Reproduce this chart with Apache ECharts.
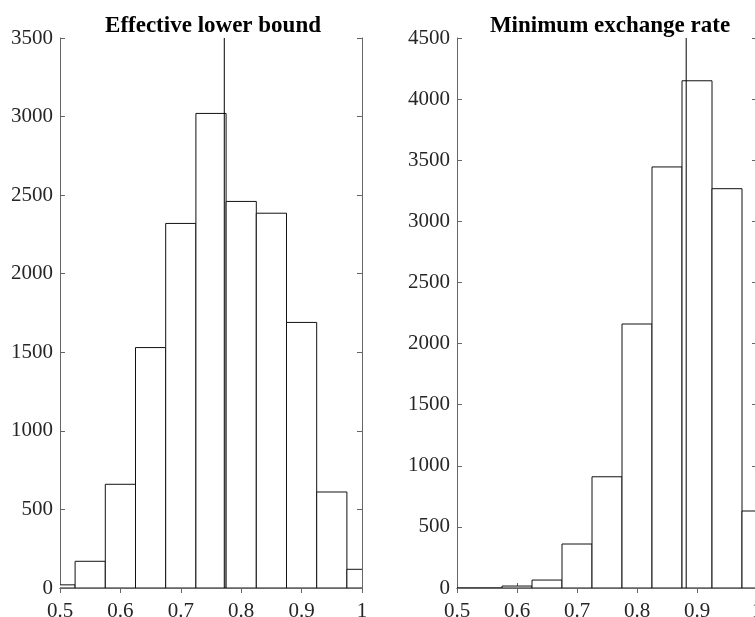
<!DOCTYPE html>
<html>
<head>
<meta charset="utf-8">
<script src="https://cdn.jsdelivr.net/npm/echarts@6/dist/echarts.min.js"></script>
<style>
html,body{margin:0;padding:0;background:#fff;}
#chart{width:755px;height:617px;}
</style>
</head>
<body>
<div id="chart"></div>
<script>
// Bin edges shared by both histograms
const binEdges = [0.475, 0.525, 0.575, 0.625, 0.675, 0.725, 0.775, 0.825, 0.875, 0.925, 0.975, 1.025];
const leftCounts = [20, 170, 660, 1530, 2320, 3020, 2460, 2385, 1690, 611, 119];
const rightCounts = [0, 0, 16, 65, 360, 910, 2160, 3445, 4150, 3267, 630];
const leftTitle = 'Effective lower bound';
const rightTitle = 'Minimum exchange rate';
const leftMarker = 0.772;
const rightMarker = 0.882;
const leftYMax = 3500;
const rightYMax = 4500;
const xTickMin = 0.5, xTickMax = 1, xTickStep = 0.1;
const yTickStep = 500;

function binsData(counts) {
  return counts.map((c, i) => [binEdges[i], binEdges[i + 1], c]);
}

function renderBar(params, api) {
  const x0 = api.value(0), x1 = api.value(1), y = api.value(2);
  const p0 = api.coord([x0, y]);
  const p1 = api.coord([x1, 0]);
  return {
    type: 'rect',
    shape: { x: p0[0], y: p0[1], width: p1[0] - p0[0], height: p1[1] - p0[1] },
    style: { fill: '#fff', stroke: '#111', lineWidth: 1 }
  };
}

const font = '"Liberation Serif", "DejaVu Serif", serif';
const axisColor = '#666';

function xAx(grid, pos, labels) {
  return {
    type: 'value', gridIndex: grid, position: pos,
    min: xTickMin, max: xTickMax, interval: xTickStep,
    axisLine: { show: true, lineStyle: { color: axisColor, width: 1 } },
    axisTick: { show: true, inside: true, length: 5, lineStyle: { color: axisColor } },
    axisLabel: { show: labels, margin: 13, color: '#262626', fontFamily: font, fontSize: 21,
      formatter: v => String(Math.round(v * 10) / 10) },
    splitLine: { show: false }
  };
}
function yAx(grid, pos, max, labels) {
  return {
    type: 'value', gridIndex: grid, position: pos,
    min: 0, max: max, interval: yTickStep,
    axisLine: { show: true, lineStyle: { color: axisColor, width: 1 } },
    axisTick: { show: true, inside: true, length: 5, lineStyle: { color: axisColor } },
    axisLabel: { show: labels, margin: 7, color: '#262626', fontFamily: font, fontSize: 21,
      formatter: v => String(v) },
    splitLine: { show: false }
  };
}

const chart = echarts.init(document.getElementById('chart'), null, { renderer: 'canvas' });
chart.setOption({
  animation: false,
  backgroundColor: '#fff',
  title: [
    { text: leftTitle, left: 208, top: 10, textAlign: 'center',
      textStyle: { fontFamily: font, fontSize: 23, fontWeight: 'bold', color: '#000' } },
    { text: rightTitle, left: 605, top: 10, textAlign: 'center',
      textStyle: { fontFamily: font, fontSize: 23, fontWeight: 'bold', color: '#000' } }
  ],
  grid: [
    { left: 60, top: 38, width: 302, height: 550, containLabel: false, outerBoundsMode: 'none' },
    { left: 457, top: 38, width: 300, height: 550, containLabel: false, outerBoundsMode: 'none' }
  ],
  xAxis: [
    xAx(0, 'bottom', true), xAx(0, 'top', false),
    xAx(1, 'bottom', true), xAx(1, 'top', false)
  ],
  yAxis: [
    yAx(0, 'left', leftYMax, true), yAx(0, 'right', leftYMax, false),
    yAx(1, 'left', rightYMax, true), yAx(1, 'right', rightYMax, false)
  ],
  series: [
    { type: 'custom', xAxisIndex: 0, yAxisIndex: 0, clip: true,
      renderItem: renderBar, data: binsData(leftCounts) },
    { type: 'line', xAxisIndex: 0, yAxisIndex: 0, symbol: 'none',
      lineStyle: { color: '#000', width: 1 },
      data: [[leftMarker, 0], [leftMarker, leftYMax]] },
    { type: 'custom', xAxisIndex: 2, yAxisIndex: 2, clip: true,
      renderItem: renderBar, data: binsData(rightCounts) },
    { type: 'line', xAxisIndex: 2, yAxisIndex: 2, symbol: 'none',
      lineStyle: { color: '#000', width: 1 },
      data: [[rightMarker, 0], [rightMarker, rightYMax]] }
  ]
});
</script>
</body>
</html>
